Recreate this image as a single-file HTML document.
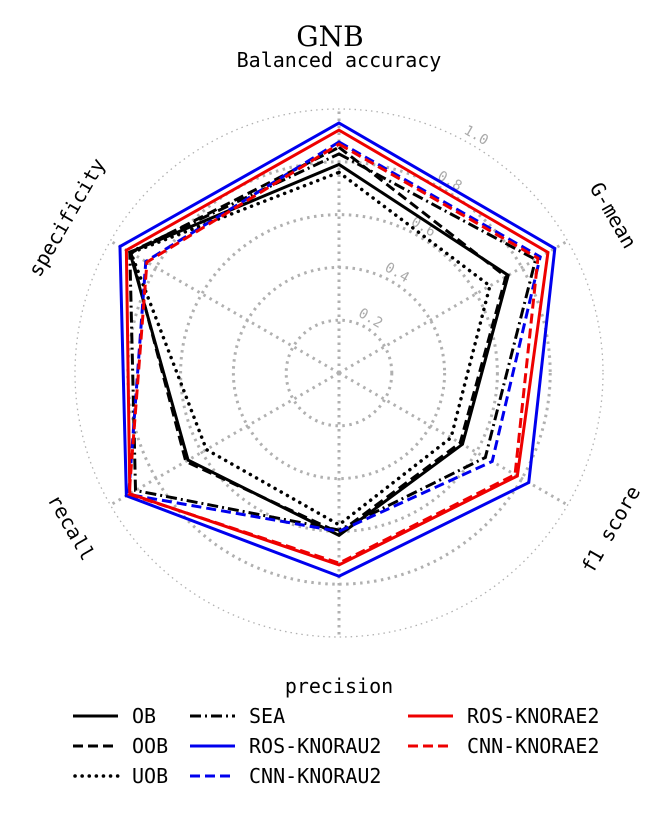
<!DOCTYPE html>
<html><head><meta charset="utf-8"><style>
body{margin:0;background:#fff}
svg text{font-family:"DejaVu Sans Mono","Liberation Mono",monospace}
</style></head><body>
<svg id="chart" width="669" height="821" xmlns="http://www.w3.org/2000/svg">
<text x="330" y="46" text-anchor="middle" font-size="28" style="font-family:'DejaVu Serif','Liberation Serif',serif">GNB</text>
<g id="grid"></g><g id="series"></g><g id="labels"></g><g id="legend"></g>
</svg>
<script>
const axes=["Balanced accuracy","G-mean","f1 score","precision","recall","specificity"];
const seriesNames=["OB","OOB","UOB","SEA","ROS-KNORAU2","CNN-KNORAU2","ROS-KNORAE2","CNN-KNORAE2"];
const OB=[0.79,0.74,0.54,0.615,0.66,0.915];
const OOB=[0.855,0.73,0.53,0.605,0.67,0.91];
const UOB=[0.76,0.66,0.49,0.575,0.58,0.91];
const SEA=[0.83,0.86,0.64,0.595,0.89,0.915];
const ROS_KNORAU2=[0.947,0.944,0.83,0.77,0.93,0.958];
const CNN_KNORAU2=[0.875,0.88,0.67,0.60,0.92,0.845];
const ROS_KNORAE2=[0.92,0.914,0.78,0.727,0.915,0.93];
const CNN_KNORAE2=[0.867,0.87,0.77,0.72,0.918,0.84];
const gridTicks=[0.2,0.4,0.6,0.8,1.0];
const tickLabels=["0.2","0.4","0.6","0.8","1.0"];
const values=[OB,OOB,UOB,SEA,ROS_KNORAU2,CNN_KNORAU2,ROS_KNORAE2,CNN_KNORAE2];
const styles=[["#000",""],["#000","10,5"],["#000","0.1,7"],["#000","11,4,2,4"],["#0000ee",""],["#0000ee","10,5"],["#ee0000",""],["#ee0000","10,5"]];
const cx=339,cy=373,R=264;
const NS="http://www.w3.org/2000/svg";
function rr(v){return v*R;}
function ang(i){return -Math.PI/2+i*Math.PI/3;}
function pt(i,v){return [cx+rr(v)*Math.cos(ang(i)),cy+rr(v)*Math.sin(ang(i))];}
function mk(t,a,p){const e=document.createElementNS(NS,t);for(const k in a)e.setAttribute(k,a[k]);p.appendChild(e);return e;}
const G=document.getElementById('grid');
gridTicks.forEach((t,k)=>{
 const c=mk('circle',{cx:cx,cy:cy,r:rr(t),fill:'none',stroke:'#b0b0b0','stroke-width':t>=1?1.3:3,'stroke-dasharray':t>=1?'1.5,4':'2.5,4.5'},G);
 
 
 const a=-Math.PI/2+Math.PI/6, r=rr(t)+6;
 const x=cx+r*Math.cos(a),y=cy+r*Math.sin(a);
 const tx=mk('text',{x:x,y:y,'font-size':14,fill:'#aaa','text-anchor':'middle',transform:`rotate(30 ${x} ${y})`},G);
 tx.textContent=tickLabels[k];
 
 
});
axes.forEach((n,i)=>{
 const p=pt(i,1);
 const l=mk('line',{x1:cx,y1:cy,x2:p[0],y2:p[1],stroke:'#b0b0b0','stroke-width':3,'stroke-dasharray':'2.5,4.5'},G);
 
 
});
const S=document.getElementById('series');
values.forEach((v,s)=>{
 const pts=v.map((x,i)=>pt(i,x).join(',')).join(' ');
 const dotted=s===2;
 const pg=mk('polygon',{points:pts,fill:'none',stroke:styles[s][0],'stroke-width':dotted?3.5:3,'stroke-dasharray':styles[s][1],'stroke-linecap':dotted?'round':'butt','stroke-linejoin':'miter'},S);
 
 
});
const L=document.getElementById('labels');
const lab=[[339,67,0,"middle"],[612,216,60,"middle"],[612,530,-60,"middle"],[339,693,0,"middle"],[70,528,60,"middle"],[68,218,-60,"middle"]];
axes.forEach((n,i)=>{
 const [x,y,r,a]=lab[i];
 const t=mk('text',{x:x,y:y,'font-size':20,'text-anchor':a,'dominant-baseline':(i==0||i==3)?'auto':'middle',transform:`rotate(${r} ${x} ${y})`},L);
 t.textContent=n;
 
 
});
const LG=document.getElementById('legend');
const cols=[73,190,408];
const order=[0,1,2,3,4,5,6,7];
order.forEach((s,k)=>{
 const c=Math.floor(k/3),r=k%3;
 const x=cols[c],y=716+r*30;
 const g=mk('g',{},LG);
 
 
 const dotted=s===2;
 mk('line',{x1:x+(dotted?2:0),y1:y,x2:x+45,y2:y,stroke:styles[s][0],'stroke-width':dotted?3.5:3,'stroke-dasharray':styles[s][1],'stroke-linecap':dotted?'round':'butt'},g);
 const t=mk('text',{x:x+59,y:y+7,'font-size':20},g);
 t.textContent=seriesNames[s];
});
</script>
</body></html>
